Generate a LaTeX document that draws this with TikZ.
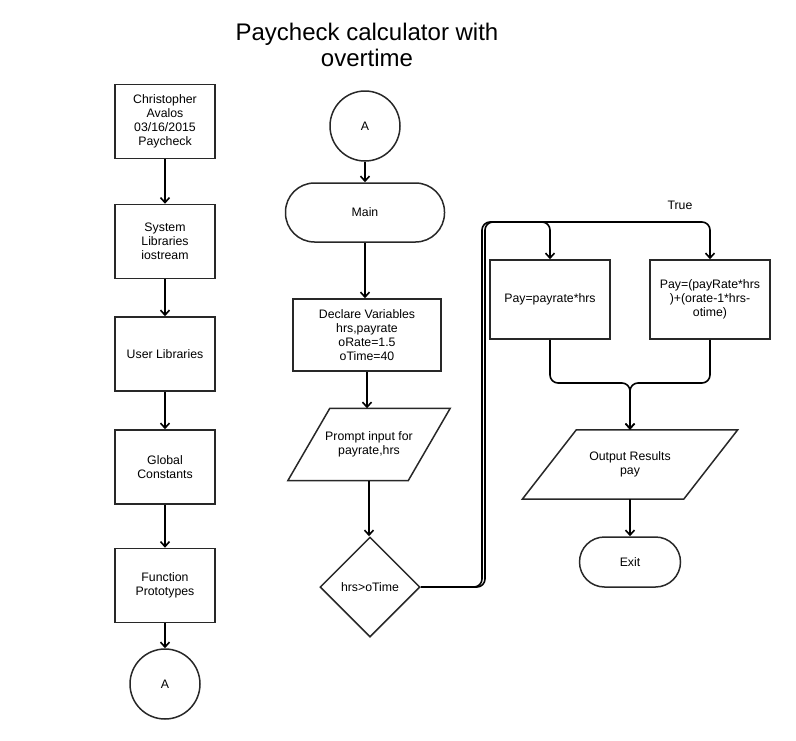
\documentclass[tikz,border=0pt]{standalone}
\usepackage{fontspec}
\setmainfont{Liberation Sans}
\usetikzlibrary{positioning,arrows.meta,shapes.geometric,calc}
\definecolor{borde}{RGB}{40,40,40}

\begin{document}
\begin{tikzpicture}[x=1pt, y=-1pt,
  caja/.style={draw=borde, line width=1.5pt, fill=white, align=center,
    font=\fontsize{12.3}{14}\selectfont, inner sep=2pt,
    minimum width=100pt, minimum height=74pt},
  conector/.style={circle, draw=borde, line width=1.5pt, fill=white,
    font=\fontsize{12.3}{14}\selectfont, minimum size=70pt},
  terminal/.style={caja, rounded corners=#1},
  entrada/.style={align=center, font=\fontsize{12.3}{14}\selectfont,
    inner sep=0pt},
  forma/.style={draw=borde, line width=1.5pt},
  decision/.style={diamond, draw=borde, line width=1.5pt, fill=white,
    font=\fontsize{12.3}{14}\selectfont, minimum width=100pt,
    minimum height=100pt, inner sep=1pt},
  flujo/.style={-{Straight Barb[length=5pt, width=9pt]}, line width=1.6pt,
    rounded corners=8pt}
]
\useasboundingbox (0,0) rectangle (796,740);
% Titulo
\node[align=center, font=\fontsize{24}{26}\selectfont] (titulo) at (367,45)
  {Paycheck calculator with\\ overtime};
% Columna izquierda
\node[caja] (autor) at (165,121.5) {Christopher\\ Avalos\\ 03/16/2015\\ Paycheck};
\node[caja] (libsis) at (165,241.5) {System\\ Libraries\\ iostream};
\node[caja] (libusr) at (165,354) {User Libraries};
\node[caja] (const) at (165,467) {Global\\ Constants};
\node[caja] (proto) at (165,585.5) {Function\\ Prototypes};
\node[conector] (a1) at (165,684) {A};
% Columna central
\node[conector] (a2) at (365,126) {A};
\node[terminal=29pt, minimum width=159pt, minimum height=59pt] (main)
  at (365,212.5) {Main};
\node[caja, minimum width=148pt, minimum height=72pt] (decl) at (367,335)
  {Declare Variables\\ hrs,payrate\\ oRate=1.5\\ oTime=40};
\node[entrada, minimum width=120pt, minimum height=72pt] (prompt)
  at (369,444.5) {Prompt input for\\ payrate,hrs};
\draw[forma] ($(prompt.south west)+(-21,0)$) -- ($(prompt.south east)+(-21,0)$)
  -- ($(prompt.north east)+(21,0)$) -- ($(prompt.north west)+(21,0)$) -- cycle;
\node[decision] (cond) at (370,587) {hrs>oTime};
% Columna derecha
\node[caja, minimum width=120pt, minimum height=79pt] (pago1) at (550,299.5)
  {Pay=payrate*hrs};
\node[caja, minimum width=120pt, minimum height=79pt] (pago2) at (710,299.5)
  {Pay=(payRate*hrs\\ )+(orate-1*hrs-\\ otime)};
\node[entrada, minimum width=161pt, minimum height=69pt] (salida)
  at (630,464.5) {Output Results\\ pay};
\draw[forma] ($(salida.south west)+(-27,0)$) -- ($(salida.south east)+(-27,0)$)
  -- ($(salida.north east)+(27,0)$) -- ($(salida.north west)+(27,0)$) -- cycle;
\node[terminal=25pt, minimum width=101pt, minimum height=50pt] (fin)
  at (630,562) {Exit};
\node[font=\fontsize{12.3}{14}\selectfont] (verdad) at (680,205) {True};
\coordinate (j1) at (482,222);
\coordinate (j2) at (485,222);
\coordinate (union) at (630,383);
% Flujo
\draw[flujo] (autor) -- (libsis);
\draw[flujo] (libsis) -- (libusr);
\draw[flujo] (libusr) -- (const);
\draw[flujo] (const) -- (proto);
\draw[flujo] (proto) -- (a1);
\draw[flujo] (a2) -- (main);
\draw[flujo] (main.south) -- (main.south |- decl.north);
\draw[flujo] (decl.south) -- (decl.south |- prompt.north);
\draw[flujo] (prompt.south) -- (prompt.south |- cond.north);
\draw[flujo] (cond.east) -| (j1) -| (pago1.north);
\draw[flujo] (cond.east) -| (j2) -| (pago2.north);
\draw[flujo] (pago1.south) |- (union) -- (salida.north);
\draw[flujo] (pago2.south) |- (union) -- (salida.north);
\draw[flujo] (salida.south) -- (salida.south |- fin.north);
\end{tikzpicture}
\end{document}
